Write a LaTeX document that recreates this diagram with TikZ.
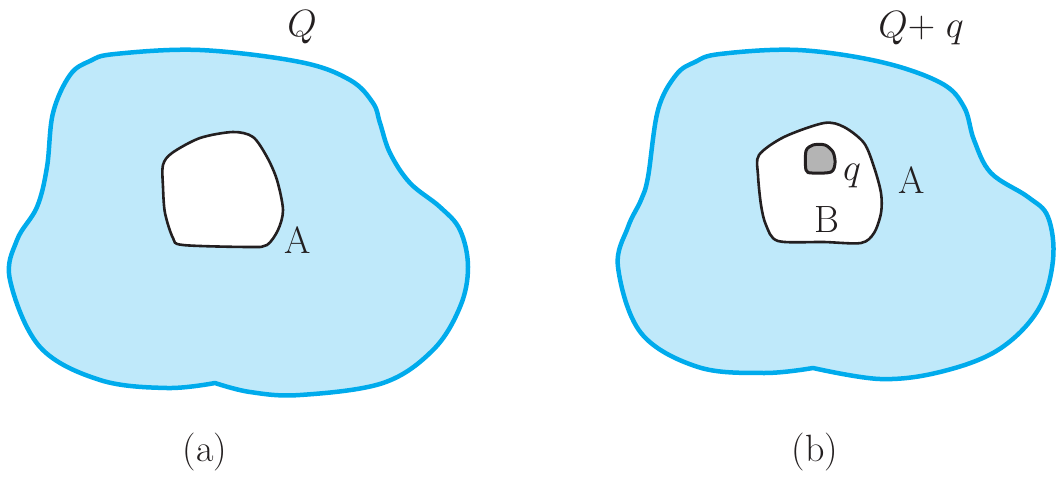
\RequirePackage{fix-cm}
\documentclass[tikz,border=0pt]{standalone}
\definecolor{outblue}{RGB}{0,171,236}
\definecolor{fillblue}{RGB}{191,233,250}
\definecolor{inkblack}{RGB}{35,31,32}
\definecolor{chargegray}{RGB}{180,180,180}
\begin{document}
\begin{tikzpicture}[x=1pt,y=-1pt,
  blob/.style={draw=outblue, line width=4.5pt, fill=fillblue, line join=round},
  hole/.style={draw=inkblack, line width=2.6pt, fill=white, line join=round},
  charge/.style={draw=inkblack, line width=3pt, fill=chargegray, line join=round},
  lbl/.style={font=\fontsize{38}{44}\selectfont, inner sep=0pt, text=inkblack}]
\useasboundingbox (0,0) rectangle (1062,479);
% ---- (a) ----
\draw[blob] plot[smooth, tension=0.6] coordinates {(215,383) (167,388) (100,380) (40,347) (10,280) (17,240) (37,207) (47,167) (53,113) (70,75) (90,61) (115,54) (200,50) (300,62) (350,80) (373,103) (380,123) (390,153) (410,183) (440,207) (460,230) (468,267) (460,307) (433,350) (383,383) (300,395) (250,392) (215,383)} -- cycle;
\draw[hole] plot[smooth cycle, tension=0.5] coordinates {(163,165) (172,153) (200,138) (233,132) (253,137) (267,157) (277,180) (283,210) (278,230) (267,245) (250,247) (183,245) (173,238) (165,213) (163,187)};
\node[lbl] (Qa) at (302,27) {$Q$};
\node[lbl] (Aa) at (298,240) {A};
\node[lbl] (capa) at (205,452) {(a)};
% ---- (b) ----
\draw[blob] plot[smooth, tension=0.6] coordinates {(813,368) (764,373) (698,367) (641,333) (618,267) (628,227) (641,200) (648,177) (658,110) (676,75) (695,62) (720,54) (798,50) (881,62) (941,83) (964,107) (974,140) (991,173) (1028,197) (1048,217) (1053,260) (1038,310) (998,350) (940,372) (880,379) (813,368)} -- cycle;
\draw[hole] plot[smooth cycle, tension=0.5] coordinates {(759,155) (784,137) (824,123) (844,127) (864,143) (874,167) (881,193) (881,213) (874,233) (861,243) (824,242) (778,241) (766,225) (761,205) (758,175)};
\draw[charge] plot[smooth cycle, tension=0.5] coordinates {(806,151) (813,145) (825,145) (833,152) (835,163) (831,172) (812,173) (806,170)};
\node[lbl] (Qb) at (921,28) {$Q{+}\;q$};
\node[lbl] (qb) at (852,176) {$q$};
\node[lbl] (Ab) at (912,180) {A};
\node[lbl] (Bb) at (827,220) {B};
\node[lbl] (capb) at (815,452) {(b)};
\end{tikzpicture}
\end{document}
